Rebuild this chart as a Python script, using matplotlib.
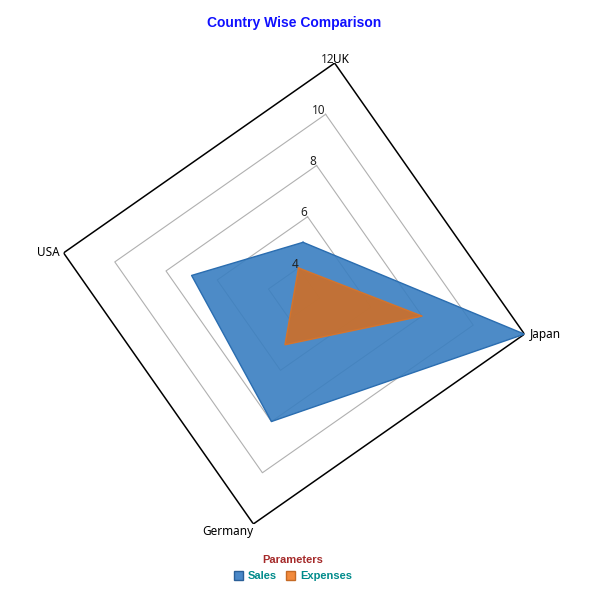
import numpy as np
import matplotlib
matplotlib.use("Agg")
import matplotlib.pyplot as plt
from matplotlib.patches import Patch

categories = ["UK", "Japan", "Germany", "USA"]
sales = [5, 12, 8, 7]
expenses = [4, 8, 5, 3]
ring_values = [4, 6, 8, 10, 12]
r_min, r_max = 3, 12

fig = plt.figure(figsize=(6.02, 5.91), dpi=100)
ax = fig.add_axes([0.0997, 0.1074, 0.7774, 0.7919], projection="polar")
ax.set_theta_offset(np.deg2rad(80))
ax.set_theta_direction(-1)
ax.set_ylim(r_min, r_max)
ax.grid(False)
ax.set_xticks([])
ax.set_yticks([])
ax.spines["polar"].set_visible(False)
ax.patch.set_visible(False)

n = len(categories)
theta = np.arange(n) * 2 * np.pi / n
theta_c = np.append(theta, theta[0])

# rings
for rv in ring_values:
    col = "black" if rv == r_max else "#b0b0b0"
    lw = 1.1 if rv == r_max else 0.8
    ax.plot(theta_c, [rv] * (n + 1), color=col, lw=lw, zorder=1)

# series
s_c = sales + sales[:1]
e_c = expenses + expenses[:1]
ax.fill(theta_c, s_c, facecolor="#3a7fc1", alpha=0.9, edgecolor="none", zorder=2)
ax.plot(theta_c, s_c, color="#2a6db0", lw=1.0, zorder=3)
ax.fill(theta_c, e_c, facecolor="#c8702f", alpha=0.95, edgecolor="none", zorder=4)
ax.plot(theta_c, e_c, color="#d5742c", lw=1.0, zorder=5)

# radial labels along UK axis
for rv in ring_values:
    ax.annotate(str(rv), xy=(theta[0], rv), xytext=(0, -2), textcoords="offset points",
                ha="right", va="bottom", fontsize=8.5, family="Noto Sans", color="#222222", zorder=6)

# category labels
lab_kw = dict(fontsize=8.5, family="Noto Sans", color="black", textcoords="offset points", zorder=6)
ax.annotate(categories[0], xy=(theta[0], r_max), xytext=(-1, -2), ha="left", va="bottom", **lab_kw)
ax.annotate(categories[1], xy=(theta[1], r_max), xytext=(4, 0), ha="left", va="center", **lab_kw)
ax.annotate(categories[2], xy=(theta[2], r_max), xytext=(0, -1), ha="right", va="top", **lab_kw)
ax.annotate(categories[3], xy=(theta[3], r_max), xytext=(-3, 0), ha="right", va="center", **lab_kw)

fig.text(0.4884, 1 - 23 / 591, "Country Wise Comparison", ha="center", va="center",
         fontsize=10, fontweight="bold", color="#1010ff", family="Liberation Sans")

handles = [Patch(facecolor="#4a88c8", edgecolor="#2a5f98", label="Sales"),
           Patch(facecolor="#f28a3c", edgecolor="#c56a25", label="Expenses")]
leg = fig.legend(handles=handles, loc="center", bbox_to_anchor=(0.487, 1 - 568 / 591), ncol=2,
                 frameon=False, title="Parameters", handlelength=0.8, handleheight=0.8,
                 handletextpad=0.5, columnspacing=0.8, borderpad=0.2, labelspacing=0.6,
                 prop={"family": "Liberation Sans", "weight": "bold", "size": 8},
                 title_fontproperties={"family": "Liberation Sans", "weight": "bold", "size": 8})
leg.get_title().set_color("#a52a2a")
for t in leg.get_texts():
    t.set_color("#008b8b")

fig.savefig("out.png", dpi=100)
